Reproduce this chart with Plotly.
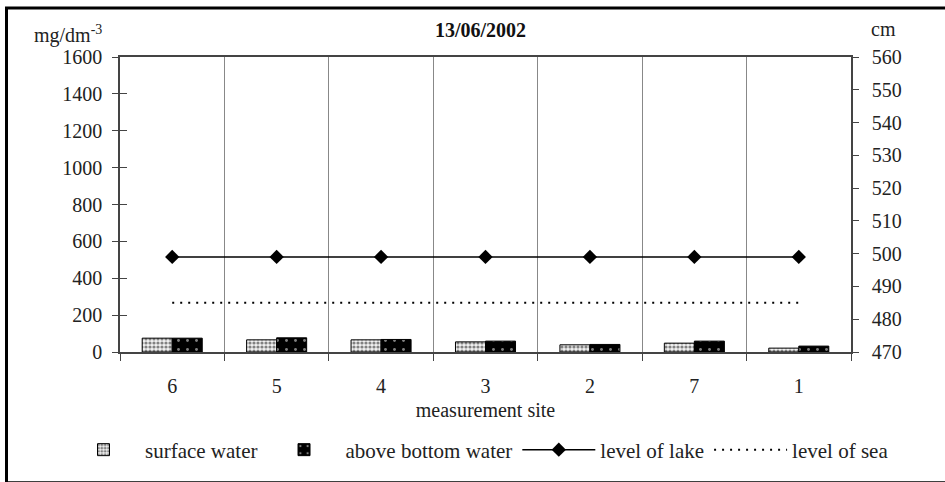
import plotly.graph_objects as go

# ---- data ----
sites = ["6", "5", "4", "3", "2", "7", "1"]
surface_water = [75, 66, 66, 55, 39, 48, 21]
above_bottom_water = [75, 77, 68, 59, 41, 59, 32]
level_of_lake = [499, 499, 499, 499, 499, 499, 499]
level_of_sea = [485, 485, 485, 485, 485, 485, 485]
left_ticks = [0, 200, 400, 600, 800, 1000, 1200, 1400, 1600]
right_ticks = [470, 480, 490, 500, 510, 520, 530, 540, 550, 560]

FONT = "'Liberation Serif', 'Times New Roman', 'DejaVu Serif', serif"
FS = 20
W, H = 945, 482
L, R, T, B = 120, 94, 57, 127
PW, PH = W - L - R, H - T - B


def px(x):
    return (x - L) / PW


def py(y):
    return (H - B - y) / PH


fig = go.Figure()

fig.add_trace(go.Bar(
    x=sites, y=surface_water, name="surface water",
    marker=dict(color="white", line=dict(color="black", width=1),
                pattern=dict(shape=".", fgcolor="#111", bgcolor="#f0f0f0",
                             size=4, solidity=0.5)),
))
fig.add_trace(go.Bar(
    x=sites, y=above_bottom_water, name="above bottom water",
    marker=dict(color="black", line=dict(color="black", width=1),
                pattern=dict(shape=".", fgcolor="white", bgcolor="black",
                             size=9, solidity=0.08)),
))
fig.add_trace(go.Scatter(
    x=sites, y=level_of_lake, name="level of lake", yaxis="y2",
    mode="lines+markers",
    line=dict(color="black", width=1.5),
    marker=dict(symbol="diamond", size=11, color="black"),
))
fig.add_trace(go.Scatter(
    x=sites, y=level_of_sea, name="level of sea", yaxis="y2",
    mode="lines",
    line=dict(color="black", width=2, dash="2px,6px"),
))
# empty helper trace so the inner tick marks of the left axis are drawn
fig.add_trace(go.Scatter(x=[], y=[], yaxis="y3", showlegend=False,
                         hoverinfo="skip", mode="lines"))

axis_col = "#444"
fig.update_layout(
    width=W, height=H,
    margin=dict(l=L, r=R, t=T, b=B),
    paper_bgcolor="white", plot_bgcolor="white",
    font=dict(family=FONT, size=FS, color="#222"),
    barmode="group", bargap=0.425, bargroupgap=0,
    showlegend=True,
    legend=dict(orientation="h", x=px(62), xanchor="left", y=py(454),
                yanchor="middle", font=dict(family=FONT, size=21, color="#222"),
                itemwidth=73, traceorder="normal", bgcolor="rgba(0,0,0,0)"),
    xaxis=dict(
        type="category", tickson="boundaries", showgrid=True,
        gridcolor="#888", gridwidth=1,
        showline=True, linecolor=axis_col, linewidth=1.5, mirror=True,
        ticks="outside", ticklen=7, tickcolor=axis_col,
        ticklabelstandoff=15,
        tickfont=dict(family=FONT, size=FS, color="#222"),
        title=dict(text="measurement site", standoff=7,
                   font=dict(family=FONT, size=FS, color="#222")),
        zeroline=False,
    ),
    yaxis=dict(
        range=[0, 1600], tickvals=left_ticks, showgrid=False, zeroline=False,
        showline=True, linecolor=axis_col, linewidth=1.5,
        ticks="outside", ticklen=6, tickcolor=axis_col,
        ticklabelstandoff=6,
        tickfont=dict(family=FONT, size=FS, color="#222"),
    ),
    yaxis2=dict(
        range=[470, 560], tickvals=right_ticks, overlaying="y", side="right",
        showgrid=False, zeroline=False,
        showline=True, linecolor=axis_col, linewidth=1.5,
        ticks="outside", ticklen=6, tickcolor=axis_col,
        ticklabelstandoff=9,
        tickfont=dict(family=FONT, size=FS, color="#222"),
    ),
    yaxis3=dict(
        range=[0, 1600], tickvals=left_ticks, overlaying="y", side="left",
        showgrid=False, zeroline=False, showline=False, showticklabels=False,
        ticks="inside", ticklen=7, tickcolor=axis_col,
    ),
)

fig.add_annotation(text="<b>13/06/2002</b>", xref="paper", yref="paper",
                   x=px(480), y=py(30), xanchor="center", yanchor="middle",
                   showarrow=False, font=dict(family=FONT, size=FS, color="#111"))
fig.add_annotation(text="mg/dm<sup>-3</sup>", xref="paper", yref="paper",
                   x=px(104), y=py(34), xanchor="right", yanchor="middle",
                   showarrow=False, font=dict(family=FONT, size=FS, color="#222"))
fig.add_annotation(text="cm", xref="paper", yref="paper",
                   x=px(869), y=py(29), xanchor="left", yanchor="middle",
                   showarrow=False, font=dict(family=FONT, size=FS, color="#222"))

# outer frame of the figure
fig.add_shape(type="rect", xref="paper", yref="paper",
              x0=px(6.5), x1=px(W + 5), y0=py(7.5), y1=py(H + 5),
              line=dict(color="black", width=3), fillcolor="rgba(0,0,0,0)",
              layer="above")

fig.write_html("out.html")
